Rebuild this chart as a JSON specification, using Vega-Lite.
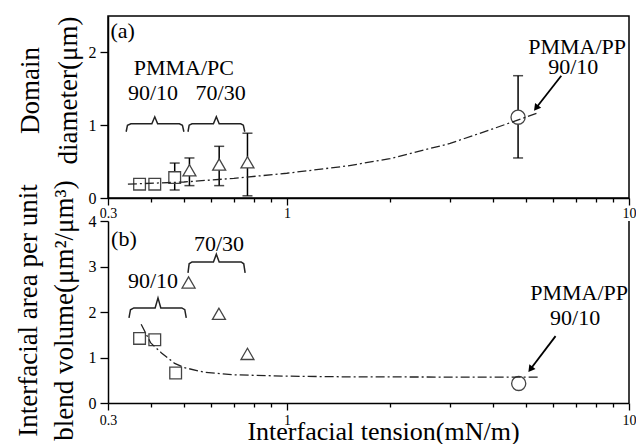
{
  "$schema": "https://vega.github.io/schema/vega-lite/v6.json",
  "padding": {"left": 13, "top": 15, "right": 4, "bottom": 0},
  "background": "white",
  "spacing": 23,
  "bounds": "flush",
  "config": {
    "font": "Liberation Serif",
    "view": {"stroke": null},
    "axis": {
      "grid": false, "domainColor": "black", "domainWidth": 1.5,
      "tickColor": "black", "tickWidth": 1.3,
      "labelColor": "black", "titleColor": "black",
      "labelFont": "Liberation Serif", "titleFont": "Liberation Serif",
      "titleFontWeight": "normal", "labelFontSize": 15, "titleFontSize": 27,
      "labelOverlap": false, "labelFlush": false
    }
  },
  "datasets": {
    "pts": [
      {"panel": "a", "kind": "sq", "x": 0.371, "y": 0.19},
      {"panel": "a", "kind": "sq", "x": 0.411, "y": 0.19},
      {"panel": "a", "kind": "sq", "x": 0.470, "y": 0.28, "lo": 0.11, "hi": 0.48},
      {"panel": "a", "kind": "tri", "x": 0.519, "y": 0.38, "lo": 0.17, "hi": 0.55},
      {"panel": "a", "kind": "tri", "x": 0.634, "y": 0.46, "lo": 0.17, "hi": 0.71},
      {"panel": "a", "kind": "tri", "x": 0.767, "y": 0.49, "lo": 0.03, "hi": 0.89},
      {"panel": "a", "kind": "circ", "x": 4.74, "y": 1.11, "lo": 0.55, "hi": 1.68},
      {"panel": "b", "kind": "sq", "x": 0.371, "y": 1.42},
      {"panel": "b", "kind": "sq", "x": 0.411, "y": 1.39},
      {"panel": "b", "kind": "sq", "x": 0.473, "y": 0.66},
      {"panel": "b", "kind": "tri", "x": 0.516, "y": 2.65},
      {"panel": "b", "kind": "tri", "x": 0.633, "y": 1.96},
      {"panel": "b", "kind": "tri", "x": 0.767, "y": 1.08},
      {"panel": "b", "kind": "circ", "x": 4.76, "y": 0.43}
    ],
    "fit": [
      {"panel": "a", "x": 0.343, "y": 0.19},
      {"panel": "a", "x": 0.5, "y": 0.22},
      {"panel": "a", "x": 0.7, "y": 0.27},
      {"panel": "a", "x": 1.0, "y": 0.34},
      {"panel": "a", "x": 1.5, "y": 0.44},
      {"panel": "a", "x": 2.0, "y": 0.54},
      {"panel": "a", "x": 3.0, "y": 0.75},
      {"panel": "a", "x": 4.0, "y": 0.95},
      {"panel": "a", "x": 5.42, "y": 1.17},
      {"panel": "b", "x": 0.375, "y": 1.73},
      {"panel": "b", "x": 0.4, "y": 1.32},
      {"panel": "b", "x": 0.43, "y": 1.1},
      {"panel": "b", "x": 0.47, "y": 0.87},
      {"panel": "b", "x": 0.5, "y": 0.78},
      {"panel": "b", "x": 0.57, "y": 0.68},
      {"panel": "b", "x": 0.7, "y": 0.62},
      {"panel": "b", "x": 1.0, "y": 0.59},
      {"panel": "b", "x": 1.5, "y": 0.575},
      {"panel": "b", "x": 3.0, "y": 0.57},
      {"panel": "b", "x": 5.5, "y": 0.57}
    ],
    "brace": [
      {"panel": "a", "g": "a1", "i": 0, "x": 0.339, "y": 0.91},
      {"panel": "a", "g": "a1", "i": 1, "x": 0.342, "y": 1.0},
      {"panel": "a", "g": "a1", "i": 2, "x": 0.35, "y": 1.02},
      {"panel": "a", "g": "a1", "i": 3, "x": 0.403, "y": 1.02},
      {"panel": "a", "g": "a1", "i": 4, "x": 0.411, "y": 1.115},
      {"panel": "a", "g": "a1", "i": 5, "x": 0.419, "y": 1.02},
      {"panel": "a", "g": "a1", "i": 6, "x": 0.485, "y": 1.02},
      {"panel": "a", "g": "a1", "i": 7, "x": 0.495, "y": 1.0},
      {"panel": "a", "g": "a1", "i": 8, "x": 0.5, "y": 0.91},
      {"panel": "a", "g": "a2", "i": 0, "x": 0.514, "y": 0.91},
      {"panel": "a", "g": "a2", "i": 1, "x": 0.518, "y": 1.0},
      {"panel": "a", "g": "a2", "i": 2, "x": 0.528, "y": 1.02},
      {"panel": "a", "g": "a2", "i": 3, "x": 0.61, "y": 1.02},
      {"panel": "a", "g": "a2", "i": 4, "x": 0.622, "y": 1.115},
      {"panel": "a", "g": "a2", "i": 5, "x": 0.634, "y": 1.02},
      {"panel": "a", "g": "a2", "i": 6, "x": 0.733, "y": 1.02},
      {"panel": "a", "g": "a2", "i": 7, "x": 0.746, "y": 1.0},
      {"panel": "a", "g": "a2", "i": 8, "x": 0.753, "y": 0.91},
      {"panel": "b", "g": "b1", "i": 0, "x": 0.3455, "y": 1.87},
      {"panel": "b", "g": "b1", "i": 1, "x": 0.349, "y": 2.05},
      {"panel": "b", "g": "b1", "i": 2, "x": 0.357, "y": 2.09},
      {"panel": "b", "g": "b1", "i": 3, "x": 0.412, "y": 2.09},
      {"panel": "b", "g": "b1", "i": 4, "x": 0.42, "y": 2.31},
      {"panel": "b", "g": "b1", "i": 5, "x": 0.428, "y": 2.09},
      {"panel": "b", "g": "b1", "i": 6, "x": 0.493, "y": 2.09},
      {"panel": "b", "g": "b1", "i": 7, "x": 0.503, "y": 2.05},
      {"panel": "b", "g": "b1", "i": 8, "x": 0.508, "y": 1.87},
      {"panel": "b", "g": "b2", "i": 0, "x": 0.514, "y": 2.86},
      {"panel": "b", "g": "b2", "i": 1, "x": 0.518, "y": 3.06},
      {"panel": "b", "g": "b2", "i": 2, "x": 0.528, "y": 3.1},
      {"panel": "b", "g": "b2", "i": 3, "x": 0.61, "y": 3.1},
      {"panel": "b", "g": "b2", "i": 4, "x": 0.622, "y": 3.27},
      {"panel": "b", "g": "b2", "i": 5, "x": 0.634, "y": 3.1},
      {"panel": "b", "g": "b2", "i": 6, "x": 0.735, "y": 3.1},
      {"panel": "b", "g": "b2", "i": 7, "x": 0.748, "y": 3.06},
      {"panel": "b", "g": "b2", "i": 8, "x": 0.755, "y": 2.86}
    ],
    "labels": [
      {"panel": "a", "x": 0.331, "y": 2.30, "t": "(a)"},
      {"panel": "a", "x": 0.500, "y": 1.79, "t": "PMMA/PC"},
      {"panel": "a", "x": 0.406, "y": 1.44, "t": "90/10"},
      {"panel": "a", "x": 0.640, "y": 1.44, "t": "70/30"},
      {"panel": "a", "x": 7.05, "y": 2.075, "t": "PMMA/PP"},
      {"panel": "a", "x": 6.87, "y": 1.80, "t": "90/10"},
      {"panel": "b", "x": 0.334, "y": 3.60, "t": "(b)"},
      {"panel": "b", "x": 0.633, "y": 3.49, "t": "70/30"},
      {"panel": "b", "x": 0.406, "y": 2.68, "t": "90/10"},
      {"panel": "b", "x": 7.15, "y": 2.42, "t": "PMMA/PP"},
      {"panel": "b", "x": 6.96, "y": 1.87, "t": "90/10"}
    ],
    "arrows": [
      {"panel": "a", "x": 6.34, "y": 1.68, "x2": 5.35, "y2": 1.236},
      {"panel": "b", "x": 6.1, "y": 1.47, "x2": 5.15, "y2": 0.74}
    ],
    "edge": [
      {"x": 10, "y": 0, "y2": 4}
    ]
  },
  "vconcat": [
    {
      "width": 521,
      "height": 182,
      "view": {"stroke": "black", "strokeWidth": 1.5},
      "layer": [
        {
          "data": {"name": "pts"},
          "transform": [{"filter": "datum.panel == 'a' && isValid(datum.lo)"}],
          "mark": {"type": "errorbar", "color": "black", "ticks": {"size": 10, "thickness": 1.5}, "rule": {"strokeWidth": 1.5}},
          "encoding": {
            "x": {"field": "x", "type": "quantitative",
              "scale": {"type": "log", "domain": [0.3, 10], "nice": false},
              "axis": {"title": null, "values": [0.3, 0.4, 0.5, 0.6, 0.7, 0.8, 0.9, 1, 2, 3, 4, 5, 6, 7, 8, 9, 10],
                "format": "~g", "labelExpr": "(datum.value == 0.3 || datum.value == 1 || datum.value == 10) ? datum.label : ''",
                "tickSize": {"condition": {"test": "datum.value == 0.3 || datum.value == 1 || datum.value == 10", "value": 7}, "value": 4},
                "labelPadding": 1, "labelFontSize": 14}},
            "y": {"field": "lo", "type": "quantitative",
              "scale": {"domain": [0, 2.5], "nice": false},
              "axis": {"title": ["Domain", "diameter(μm)"], "values": [0, 0.5, 1, 1.5, 2, 2.5],
                "format": "~g", "labelExpr": "datum.value % 1 == 0 ? datum.label : ''",
                "tickSize": {"condition": {"test": "datum.value % 1 == 0", "value": 8}, "value": 5},
                "labelPadding": 4, "labelFontSize": 16,
                "titleAlign": "center", "titleBaseline": "alphabetic", "titleAngle": -90,
                "titleX": -70, "titleY": 74, "titleLineHeight": 38}},
            "y2": {"field": "hi"}
          }
        },
        {
          "data": {"name": "pts"},
          "transform": [{"filter": "datum.panel == 'a'"}],
          "mark": {"type": "point", "fill": "white", "stroke": "#444", "strokeWidth": 1.3, "opacity": 1},
          "encoding": {
            "x": {"field": "x", "type": "quantitative"},
            "y": {"field": "y", "type": "quantitative"},
            "shape": {"field": "kind", "type": "nominal", "scale": {"domain": ["sq", "tri", "circ"], "range": ["square", "triangle-up", "circle"]}, "legend": null},
            "size": {"field": "kind", "type": "ordinal", "scale": {"domain": ["sq", "tri", "circ"], "range": [137, 200, 156]}, "legend": null}
          }
        },
        {
          "data": {"name": "fit"},
          "transform": [{"filter": "datum.panel == 'a'"}],
          "mark": {"type": "line", "color": "#222", "strokeWidth": 1.3, "strokeDash": [9, 3, 2, 3]},
          "encoding": {
            "x": {"field": "x", "type": "quantitative"},
            "y": {"field": "y", "type": "quantitative"}
          }
        },
        {
          "data": {"name": "brace"},
          "transform": [{"filter": "datum.panel == 'a'"}],
          "mark": {"type": "line", "color": "#222", "strokeWidth": 1.5},
          "encoding": {
            "x": {"field": "x", "type": "quantitative"},
            "y": {"field": "y", "type": "quantitative"},
            "detail": {"field": "g"},
            "order": {"field": "i", "type": "quantitative"}
          }
        },
        {
          "data": {"name": "labels"},
          "transform": [{"filter": "datum.panel == 'a'"}],
          "mark": {"type": "text", "font": "Liberation Serif", "fontSize": 22, "color": "black", "baseline": "middle", "align": "center"},
          "encoding": {
            "x": {"field": "x", "type": "quantitative"},
            "y": {"field": "y", "type": "quantitative"},
            "text": {"field": "t"}
          }
        },
        {
          "data": {"name": "arrows"},
          "transform": [{"filter": "datum.panel == 'a'"}],
          "mark": {"type": "rule", "color": "black", "strokeWidth": 1.8},
          "encoding": {
            "x": {"field": "x", "type": "quantitative"},
            "y": {"field": "y", "type": "quantitative"},
            "x2": {"field": "x2"},
            "y2": {"field": "y2"}
          }
        },
        {
          "data": {"name": "arrows"},
          "transform": [{"filter": "datum.panel == 'a'"}],
          "mark": {"type": "point", "shape": "triangle-up", "angle": 218, "filled": true, "color": "black", "size": 60, "opacity": 1},
          "encoding": {
            "x": {"field": "x2", "type": "quantitative"},
            "y": {"field": "y2", "type": "quantitative"}
          }
        }
      ]
    },
    {
      "width": 521,
      "height": 182,
      "layer": [
        {
          "data": {"name": "edge"},
          "mark": {"type": "rule", "color": "black", "strokeWidth": 1.5},
          "encoding": {
            "x": {"field": "x", "type": "quantitative",
              "scale": {"type": "log", "domain": [0.3, 10], "nice": false},
              "axis": {"title": "Interfacial tension(mN/m)", "values": [0.3, 0.4, 0.5, 0.6, 0.7, 0.8, 0.9, 1, 2, 3, 4, 5, 6, 7, 8, 9, 10],
                "format": "~g", "labelExpr": "(datum.value == 0.3 || datum.value == 1 || datum.value == 10) ? datum.label : ''",
                "tickSize": {"condition": {"test": "datum.value == 0.3 || datum.value == 1 || datum.value == 10", "value": 7}, "value": 4},
                "labelPadding": 3, "labelFontSize": 14, "titleFontSize": 26,
                "titleBaseline": "alphabetic", "titleX": 275, "titleY": 36}},
            "y": {"field": "y", "type": "quantitative",
              "scale": {"domain": [0, 4], "nice": false},
              "axis": {"title": ["Interfacial area per unit", "blend volume(μm²/μm³)"], "values": [0, 0.5, 1, 1.5, 2, 2.5, 3, 3.5, 4],
                "format": "~g", "labelExpr": "datum.value % 1 == 0 ? datum.label : ''",
                "tickSize": {"condition": {"test": "datum.value % 1 == 0", "value": 8}, "value": 5},
                "labelPadding": 4, "labelFontSize": 16,
                "titleAlign": "center", "titleBaseline": "alphabetic", "titleAngle": -90,
                "titleX": -72, "titleY": 89, "titleLineHeight": 36}},
            "y2": {"field": "y2"}
          }
        },
        {
          "data": {"name": "pts"},
          "transform": [{"filter": "datum.panel == 'b'"}],
          "mark": {"type": "point", "fill": "white", "stroke": "#444", "strokeWidth": 1.3, "opacity": 1},
          "encoding": {
            "x": {"field": "x", "type": "quantitative"},
            "y": {"field": "y", "type": "quantitative"},
            "shape": {"field": "kind", "type": "nominal", "scale": {"domain": ["sq", "tri", "circ"], "range": ["square", "triangle-up", "circle"]}, "legend": null},
            "size": {"field": "kind", "type": "ordinal", "scale": {"domain": ["sq", "tri", "circ"], "range": [137, 200, 156]}, "legend": null}
          }
        },
        {
          "data": {"name": "fit"},
          "transform": [{"filter": "datum.panel == 'b'"}],
          "mark": {"type": "line", "color": "#222", "strokeWidth": 1.3, "strokeDash": [9, 3, 2, 3]},
          "encoding": {
            "x": {"field": "x", "type": "quantitative"},
            "y": {"field": "y", "type": "quantitative"}
          }
        },
        {
          "data": {"name": "brace"},
          "transform": [{"filter": "datum.panel == 'b'"}],
          "mark": {"type": "line", "color": "#222", "strokeWidth": 1.5},
          "encoding": {
            "x": {"field": "x", "type": "quantitative"},
            "y": {"field": "y", "type": "quantitative"},
            "detail": {"field": "g"},
            "order": {"field": "i", "type": "quantitative"}
          }
        },
        {
          "data": {"name": "labels"},
          "transform": [{"filter": "datum.panel == 'b'"}],
          "mark": {"type": "text", "font": "Liberation Serif", "fontSize": 22, "color": "black", "baseline": "middle", "align": "center"},
          "encoding": {
            "x": {"field": "x", "type": "quantitative"},
            "y": {"field": "y", "type": "quantitative"},
            "text": {"field": "t"}
          }
        },
        {
          "data": {"name": "arrows"},
          "transform": [{"filter": "datum.panel == 'b'"}],
          "mark": {"type": "rule", "color": "black", "strokeWidth": 1.8},
          "encoding": {
            "x": {"field": "x", "type": "quantitative"},
            "y": {"field": "y", "type": "quantitative"},
            "x2": {"field": "x2"},
            "y2": {"field": "y2"}
          }
        },
        {
          "data": {"name": "arrows"},
          "transform": [{"filter": "datum.panel == 'b'"}],
          "mark": {"type": "point", "shape": "triangle-up", "angle": 217, "filled": true, "color": "black", "size": 60, "opacity": 1},
          "encoding": {
            "x": {"field": "x2", "type": "quantitative"},
            "y": {"field": "y2", "type": "quantitative"}
          }
        }
      ]
    }
  ]
}
